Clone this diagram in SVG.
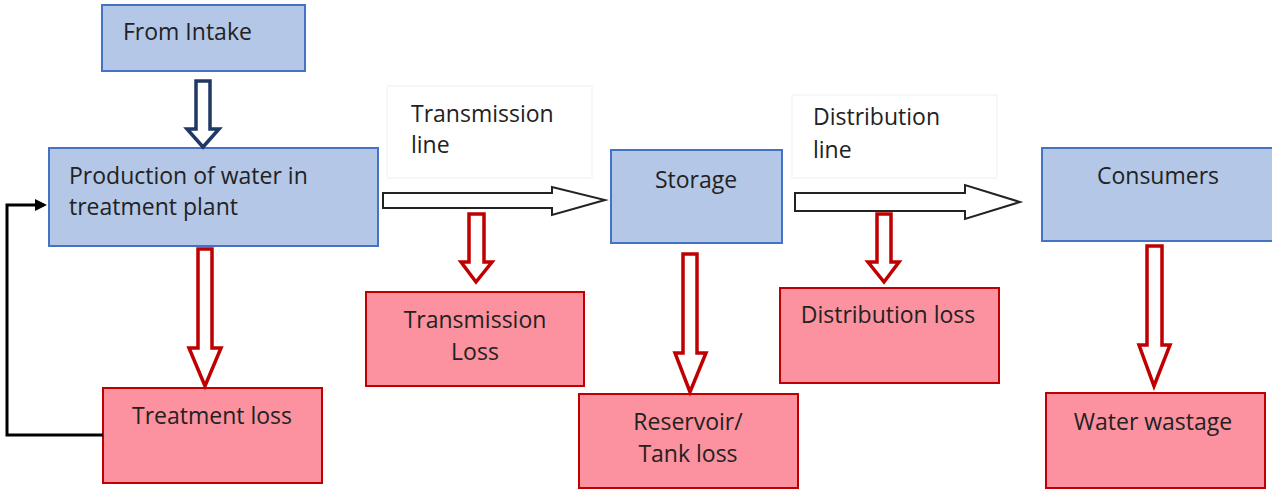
<svg xmlns="http://www.w3.org/2000/svg" width="1272" height="492" viewBox="0 0 1272 492">
<style>
.blue{fill:#B4C7E7;stroke:#4472C4;stroke-width:2}
.pink{fill:#FC919F;stroke:#C00000;stroke-width:2}
.lbl{fill:#fff;stroke:#F0F0F0;stroke-width:1}
text{font-family:"Open Sans",Lato,"Liberation Sans",sans-serif;font-size:23px;fill:#222}
.c{text-anchor:middle}
.red{fill:#fff;stroke:#C00000;stroke-width:3.5;stroke-linejoin:miter}
.navy{fill:#fff;stroke:#1F3864;stroke-width:3.5}
.hollow{fill:#fff;stroke:#222;stroke-width:2}
</style>
<defs>
<marker id="ah" markerWidth="12" markerHeight="12" refX="9" refY="6" orient="auto" markerUnits="userSpaceOnUse"><path d="M0,0 L12,6 L0,12 Z" fill="#000"/></marker>
</defs>
<rect width="1272" height="492" fill="#fff"/>
<g id="label-transmission"><rect class="lbl" x="387" y="86" width="205" height="92"/><text x="411" y="122">Transmission</text><text x="411" y="153">line</text></g>
<g id="label-distribution"><rect class="lbl" x="792" y="95" width="205" height="83" stroke="#F8F8F8"/><text x="813" y="125">Distribution</text><text x="813" y="158">line</text></g>
<g id="intake"><rect class="blue" x="102" y="5" width="203" height="66"/><text x="123" y="40">From Intake</text></g>
<g id="production"><rect class="blue" x="49" y="148" width="329" height="98"/><text x="69" y="184">Production of water in</text><text x="69" y="215">treatment plant</text></g>
<g id="storage"><rect class="blue" x="611" y="150" width="171" height="93"/><text class="c" x="696" y="188">Storage</text></g>
<g id="consumers"><rect class="blue" x="1042" y="148" width="232" height="93"/><text class="c" x="1158" y="184">Consumers</text></g>
<g id="treatment-loss"><rect class="pink" x="103" y="388" width="219" height="95"/><text class="c" x="212" y="424">Treatment loss</text></g>
<g id="transmission-loss"><rect class="pink" x="366" y="292" width="218" height="94"/><text class="c" x="475" y="328">Transmission</text><text class="c" x="475" y="360">Loss</text></g>
<g id="reservoir-loss"><rect class="pink" x="579" y="394" width="219" height="94"/><text class="c" x="688" y="430">Reservoir/</text><text class="c" x="688" y="462">Tank loss</text></g>
<g id="distribution-loss"><rect class="pink" x="780" y="288" width="219" height="95"/><text class="c" x="888" y="323">Distribution loss</text></g>
<g id="water-wastage"><rect class="pink" x="1046" y="393" width="219" height="95"/><text class="c" x="1153" y="430">Water wastage</text></g>
<g id="connectors">
<path class="navy" d="M196,81 H210 V129 H219 L203,147 L187,129 H196 Z"/>
<path class="red" d="M198,249 H212 V348 H221 L205,386 L189,348 H198 Z"/>
<path class="red" d="M469,214 H484 V262 H492 L476,282 L461,262 H469 Z"/>
<path class="red" d="M683,254 H697 V353 H706 L690,392 L675,353 H683 Z"/>
<path class="red" d="M877,214 H891 V262 H899 L884,282 L868,262 H877 Z"/>
<path class="red" d="M1147,246 H1162 V345 H1170 L1154,386 L1139,345 H1147 Z"/>
<path class="hollow" d="M383,193 H552 V187 L605,200 L552,215 V208 H383 Z"/>
<path class="hollow" d="M795,193 H965 V185 L1020,202 L965,219 V211 H795 Z"/>
<path d="M103,435 H7 V205 H44" fill="none" stroke="#000" stroke-width="3" marker-end="url(#ah)"/>
</g>
</svg>
